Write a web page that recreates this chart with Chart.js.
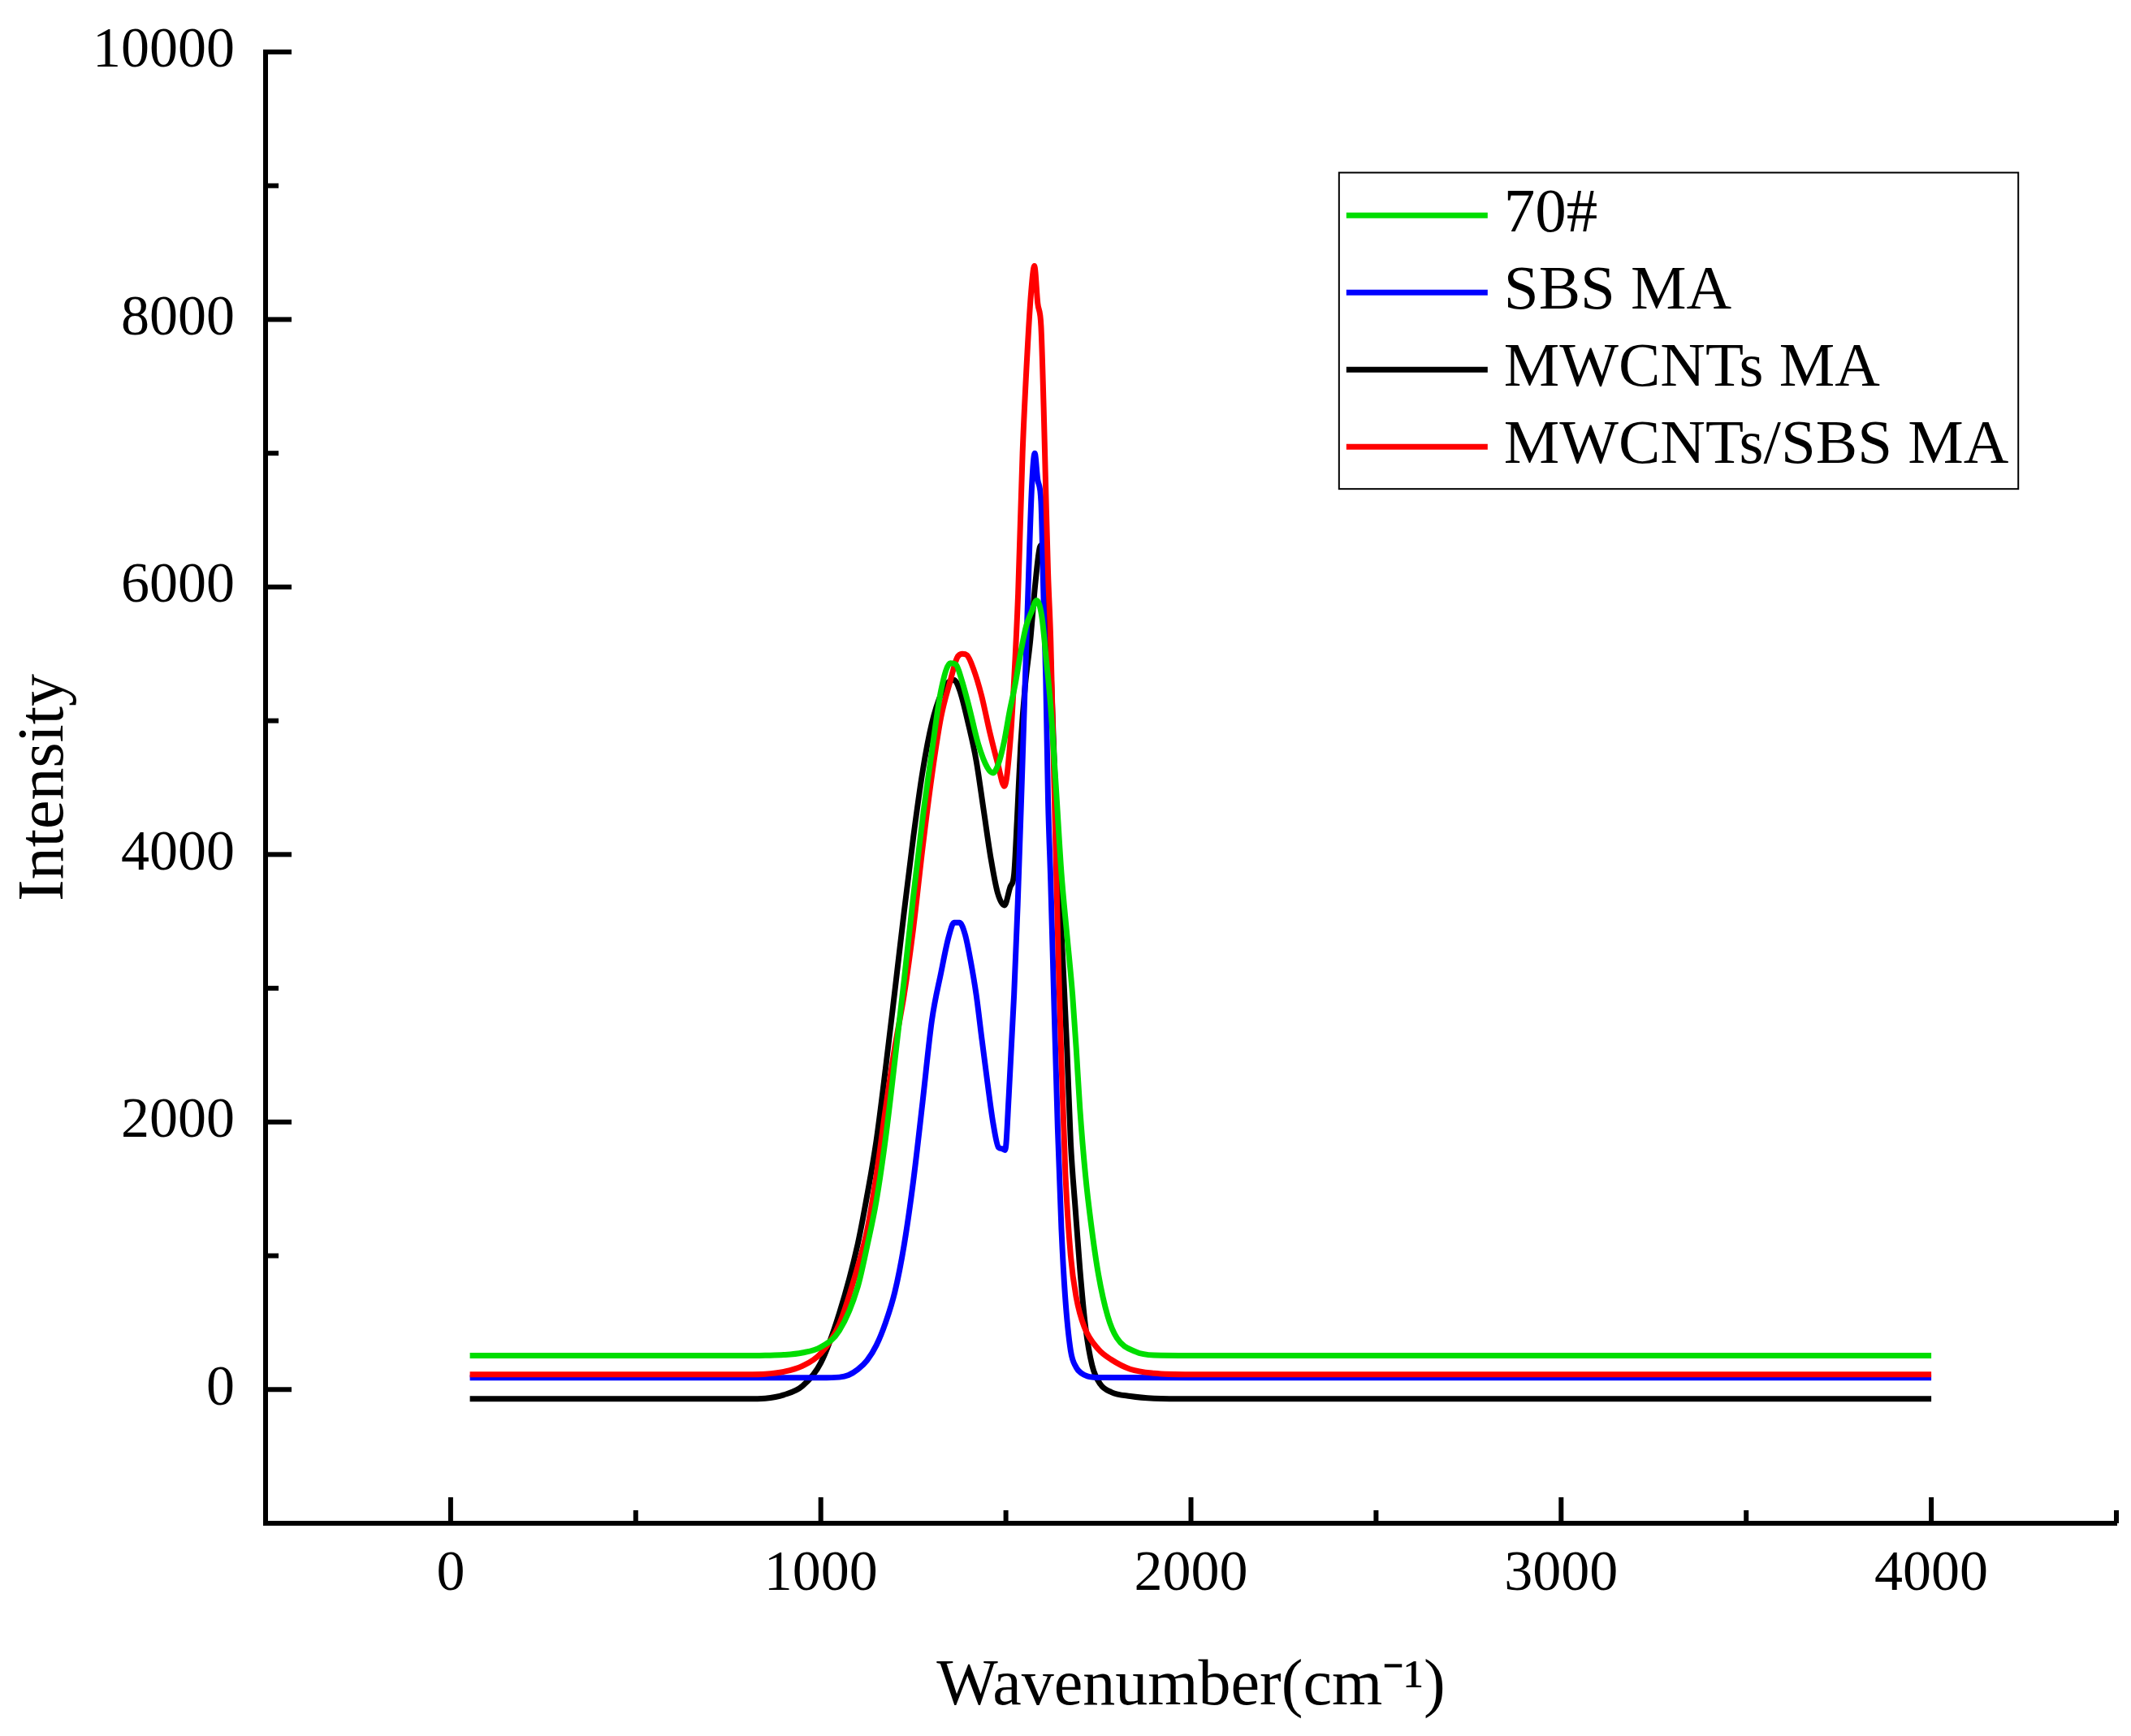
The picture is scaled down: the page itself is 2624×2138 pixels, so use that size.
<!DOCTYPE html>
<html><head><meta charset="utf-8">
<script src="https://cdn.jsdelivr.net/npm/chart.js@4.4.1/dist/chart.umd.min.js"></script>
<style>html,body{margin:0;padding:0;background:#fff;}canvas{display:block;}</style>
</head><body>
<canvas id="c" width="2624" height="2138"></canvas>
<script>
// ---- data ----
const seriesNames = ['70#', 'SBS MA', 'MWCNTs MA', 'MWCNTs/SBS MA'];
const seriesColors = ['#00dd00', '#0000ff', '#000000', '#ff0000'];

const wn70  = [52, 400, 800, 850, 900, 950, 1000, 1050, 1100, 1125, 1150, 1175, 1200, 1225, 1250, 1275, 1300, 1325, 1350, 1365, 1380, 1400, 1425, 1450, 1465, 1480, 1495, 1510, 1525, 1540, 1555, 1570, 1583, 1597, 1610, 1620, 1635, 1650, 1665, 1680, 1690, 1700, 1715, 1730, 1750, 1775, 1800, 1850, 1900, 2000, 3000, 4000];
const int70 = [253, 253, 253, 255, 259, 275, 318, 440, 770, 1070, 1410, 1880, 2460, 3060, 3690, 4270, 4770, 5230, 5430, 5420, 5310, 5110, 4830, 4650, 4610, 4680, 4840, 5070, 5270, 5510, 5710, 5820, 5900, 5780, 5430, 5140, 4520, 3860, 3400, 2950, 2550, 2100, 1600, 1240, 860, 550, 385, 283, 256, 253, 253, 253];

const wnSBS  = [52, 800, 1000, 1050, 1075, 1100, 1125, 1150, 1175, 1200, 1225, 1250, 1275, 1300, 1325, 1345, 1360, 1375, 1390, 1405, 1420, 1435, 1450, 1465, 1480, 1490, 1498, 1508, 1522, 1532, 1545, 1558, 1570, 1578, 1586, 1595, 1602, 1608, 1614, 1621, 1630, 1640, 1650, 1660, 1675, 1690, 1705, 1720, 1750, 2000, 4000];
const intSBS = [88, 88, 88, 92, 108, 150, 218, 330, 500, 729, 1080, 1560, 2150, 2760, 3120, 3380, 3490, 3490, 3400, 3200, 2950, 2620, 2300, 2000, 1810, 1800, 1790, 2200, 2950, 3630, 4700, 5800, 6750, 7000, 6800, 6640, 5900, 5300, 4400, 3800, 2900, 1950, 1200, 700, 290, 165, 120, 100, 90, 88, 88];

const wnMW  = [52, 800, 850, 900, 950, 1000, 1050, 1100, 1125, 1150, 1175, 1200, 1225, 1250, 1275, 1300, 1325, 1345, 1360, 1375, 1400, 1420, 1440, 1460, 1478, 1496, 1512, 1522, 1530, 1540, 1552, 1566, 1580, 1592, 1600, 1608, 1616, 1624, 1632, 1643, 1654, 1665, 1675, 1688, 1700, 1715, 1733, 1755, 1785, 1836, 1900, 2000, 4000];
const intMW = [-70, -70, -66, -40, 25, 200, 570, 1090, 1450, 1860, 2400, 2980, 3570, 4130, 4620, 4980, 5200, 5290, 5305, 5230, 4960, 4700, 4330, 3960, 3710, 3620, 3760, 3850, 4250, 4820, 5260, 5600, 6040, 6300, 6320, 6150, 5800, 5200, 4600, 3830, 3200, 2550, 1850, 1340, 900, 470, 180, 40, -20, -50, -66, -70, -70];

const wnMS  = [52, 800, 850, 900, 950, 1000, 1050, 1100, 1125, 1150, 1175, 1200, 1225, 1250, 1275, 1300, 1325, 1350, 1368, 1382, 1395, 1412, 1434, 1456, 1478, 1496, 1511, 1522, 1533, 1545, 1558, 1568, 1577, 1586, 1595, 1602, 1608, 1614, 1621, 1628, 1635, 1642, 1650, 1661, 1675, 1690, 1712, 1750, 1785, 1836, 1900, 2000, 4000];
const intMS = [113, 113, 116, 133, 175, 270, 490, 920, 1190, 1600, 2100, 2560, 2950, 3450, 4050, 4590, 5030, 5300, 5470, 5500, 5490, 5390, 5190, 4920, 4680, 4510, 4820, 5300, 5950, 7000, 7760, 8200, 8400, 8120, 7950, 7350, 6700, 6100, 5600, 4800, 4000, 3200, 2450, 1600, 1000, 690, 466, 300, 223, 152, 122, 113, 113];

const xTickValues  = [0, 1000, 2000, 3000, 4000];
const xMinorValues = [500, 1500, 2500, 3500, 4500];
const yTickValues  = [0, 2000, 4000, 6000, 8000, 10000];
const yMinorValues = [1000, 3000, 5000, 7000, 9000];

const xTitle = 'Wavenumber(cm\u207B\u00B9)';
const yTitle = 'Intensity';

// ---- chart ----
const FONT = "'Liberation Serif', 'Times New Roman', serif";
const allX = [wn70, wnSBS, wnMW, wnMS];
const allY = [int70, intSBS, intMW, intMS];
const drawOrder = [0, 2, 3, 1]; // lower = drawn on top

const datasets = seriesNames.map((name, i) => ({
  label: name,
  data: allX[i].map((x, k) => ({x: x, y: allY[i][k]})),
  borderColor: seriesColors[i],
  backgroundColor: seriesColors[i],
  borderWidth: 7,
  pointRadius: 0,
  fill: false,
  cubicInterpolationMode: 'monotone',
  order: drawOrder[i]
}));

const axisDecor = {
  id: 'axisDecor',
  afterDatasetsDraw(chart) {
    const ctx = chart.ctx, ca = chart.chartArea;
    const xs = chart.scales.x, ys = chart.scales.y;
    ctx.save();
    ctx.strokeStyle = '#000';
    ctx.lineWidth = 6;
    ctx.lineCap = 'butt';
    const seg = (x1, y1, x2, y2) => { ctx.beginPath(); ctx.moveTo(x1, y1); ctx.lineTo(x2, y2); ctx.stroke(); };
    xTickValues.forEach(v => { const p = xs.getPixelForValue(v); seg(p, ca.bottom, p, ca.bottom - 32); });
    xMinorValues.forEach(v => { const p = xs.getPixelForValue(v); seg(p, ca.bottom, p, ca.bottom - 16); });
    yTickValues.forEach(v => { const p = ys.getPixelForValue(v); seg(ca.left, p, ca.left + 32, p); });
    yMinorValues.forEach(v => { const p = ys.getPixelForValue(v); seg(ca.left, p, ca.left + 16, p); });

    // legend box (upper right of the plot area)
    const W = ca.right - ca.left, H = ca.bottom - ca.top;
    const bx = ca.left + W * 0.58, by = ca.top + H * 0.082;
    const bw = W * 0.367, bh = H * 0.215;
    ctx.lineWidth = 2;
    ctx.strokeRect(bx, by, bw, bh);
    const rowH = bh / 4.1;
    ctx.font = '77px ' + FONT;
    ctx.textBaseline = 'middle';
    ctx.textAlign = 'left';
    ctx.fillStyle = '#000';
    chart.data.datasets.forEach((ds, i) => {
      const ry = by + bh * 0.135 + rowH * i;
      ctx.strokeStyle = ds.borderColor;
      ctx.lineWidth = 7;
      seg(bx + 9, ry, bx + 183, ry);
      ctx.fillText(ds.label, bx + 203, ry);
    });
    ctx.restore();
  }
};

new Chart(document.getElementById('c'), {
  type: 'line',
  data: { datasets: datasets },
  options: {
    responsive: false,
    devicePixelRatio: 1,
    animation: false,
    layout: { padding: { top: 64, right: 18, left: 0, bottom: 0 } },
    plugins: { legend: { display: false }, tooltip: { enabled: false } },
    scales: {
      x: {
        type: 'linear',
        min: -500, max: 4500,
        grid: { display: false, drawTicks: false },
        border: { display: true, color: '#000', width: 6 },
        afterBuildTicks: s => { s.ticks = xTickValues.map(v => ({value: v})); },
        afterFit: s => { s.height = 262; s.paddingLeft = 0; s.paddingRight = 0; },
        ticks: { color: '#000', padding: 22, maxRotation: 0, callback: v => String(v), font: { family: FONT, size: 70 } },
        title: { display: true, text: xTitle, color: '#000', padding: { top: 0, bottom: 12 }, font: { family: FONT, size: 80 } }
      },
      y: {
        type: 'linear',
        min: -1000, max: 10000,
        grid: { display: false, drawTicks: false },
        border: { display: true, color: '#000', width: 6 },
        afterBuildTicks: s => { s.ticks = yTickValues.map(v => ({value: v})); },
        afterFit: s => { s.width = 327; s.paddingTop = 0; s.paddingBottom = 0; },
        ticks: { color: '#000', padding: 38, callback: v => String(v), font: { family: FONT, size: 70 } },
        title: { display: true, text: yTitle, color: '#000', padding: { top: 8, bottom: 0 }, font: { family: FONT, size: 80 } }
      }
    }
  },
  plugins: [axisDecor]
});
</script>
</body></html>
